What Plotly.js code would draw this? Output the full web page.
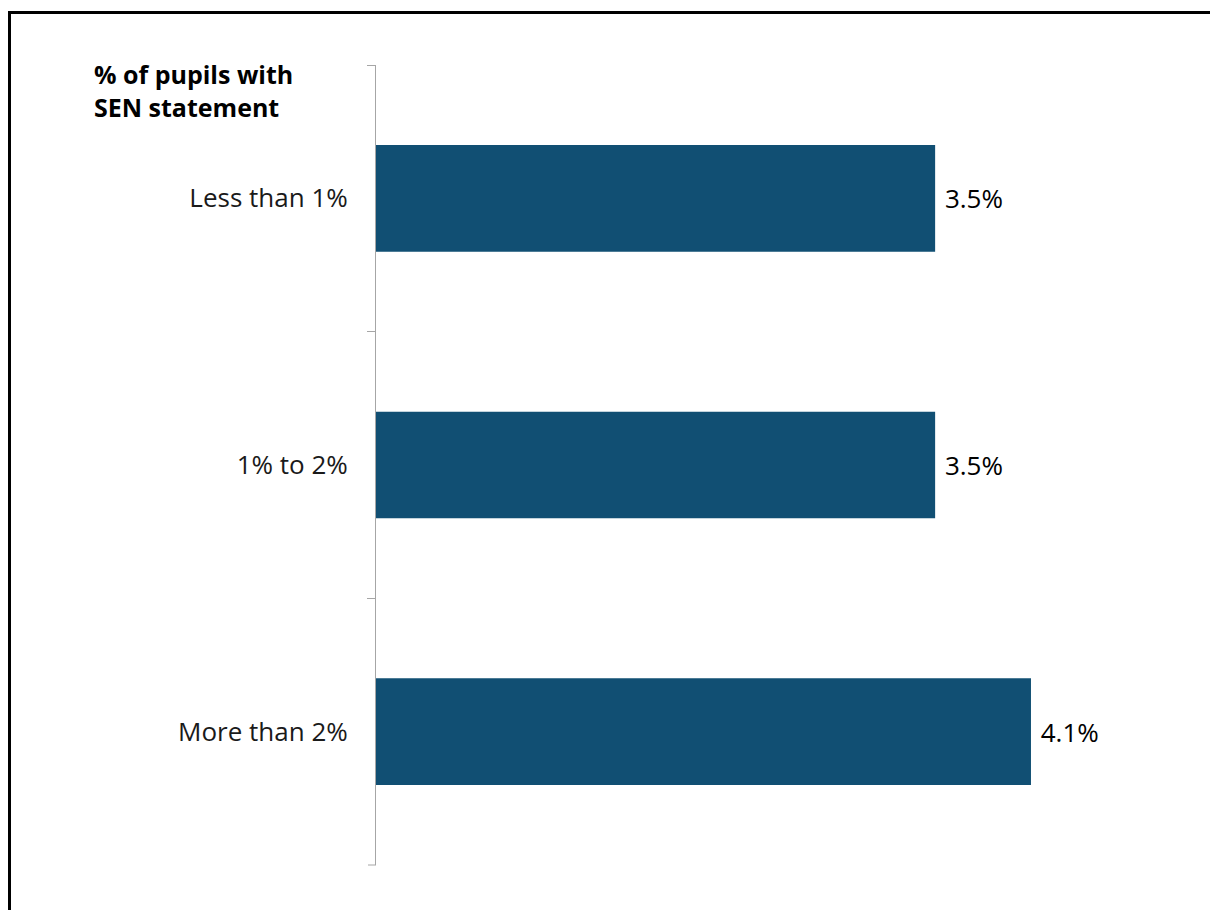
<!DOCTYPE html>
<html>
<head>
<meta charset="utf-8">
<script src="https://cdn.plot.ly/plotly-3.0.1.min.js"></script>
<style>
  html, body { margin: 0; padding: 0; background: #fff; }
  #wrap { position: relative; width: 1210px; height: 910px; overflow: hidden; }
  #chart { position: absolute; left: 0; top: 0; width: 1210px; height: 910px; }
  #frame { position: absolute; left: 8px; top: 11px; width: 1300px; height: 1000px;
           border-left: 3px solid #000; border-top: 3px solid #000; pointer-events: none; }
</style>
</head>
<body>
<div id="wrap">
  <div id="chart"></div>
  <div id="frame"></div>
</div>
<script>
const categories = ["Less than 1%", "1% to 2%", "More than 2%"];
const values = [3.5, 3.5, 4.1];
const axisTitle = "% of pupils with<br>SEN statement";

const FONT = "Open Sans, Noto Sans, sans-serif";

const trace = {
  type: "bar",
  orientation: "h",
  y: categories,
  x: values,
  marker: { color: "#114F73", line: { color: "#114F73", width: 0 } },
  texttemplate: " %{x:.1f}%",
  textposition: "outside",
  textfont: { family: FONT, size: 26, color: "#000" },
  cliponaxis: false,
  hoverinfo: "none"
};

const layout = {
  width: 1210,
  height: 910,
  margin: { l: 376, r: 10, t: 65, b: 45 },
  paper_bgcolor: "#fff",
  plot_bgcolor: "#fff",
  showlegend: false,
  bargap: 0.6,
  font: { family: FONT, size: 26, color: "#1a1a1a" },
  xaxis: {
    range: [0, 5.158],
    visible: false,
    showgrid: false,
    zeroline: false
  },
  yaxis: {
    type: "category",
    categoryorder: "array",
    categoryarray: categories,
    autorange: "reversed",
    showline: true,
    linecolor: "#A6A6A6",
    linewidth: 1,
    ticks: "outside",
    tickson: "boundaries",
    ticklen: 8,
    tickcolor: "#A6A6A6",
    tickwidth: 1,
    ticklabelstandoff: 22,
    showgrid: false,
    zeroline: false,
    tickfont: { family: FONT, size: 26, color: "#1a1a1a" }
  },
  shapes: [{
    type: "line", xref: "paper", yref: "paper",
    x0: -8 / 824, x1: 0, y0: 0, y1: 0,
    line: { color: "#A6A6A6", width: 1 }
  }],
  annotations: [{
    text: "<b>" + axisTitle + "</b>",
    xref: "paper", yref: "paper",
    x: (92 - 376) / 824, y: 1.013,
    xanchor: "left", yanchor: "top",
    align: "left",
    showarrow: false,
    font: { family: FONT, size: 25, color: "#000" }
  }]
};

Plotly.newPlot("chart", [trace], layout, { displayModeBar: false, staticPlot: true });
</script>
</body>
</html>
